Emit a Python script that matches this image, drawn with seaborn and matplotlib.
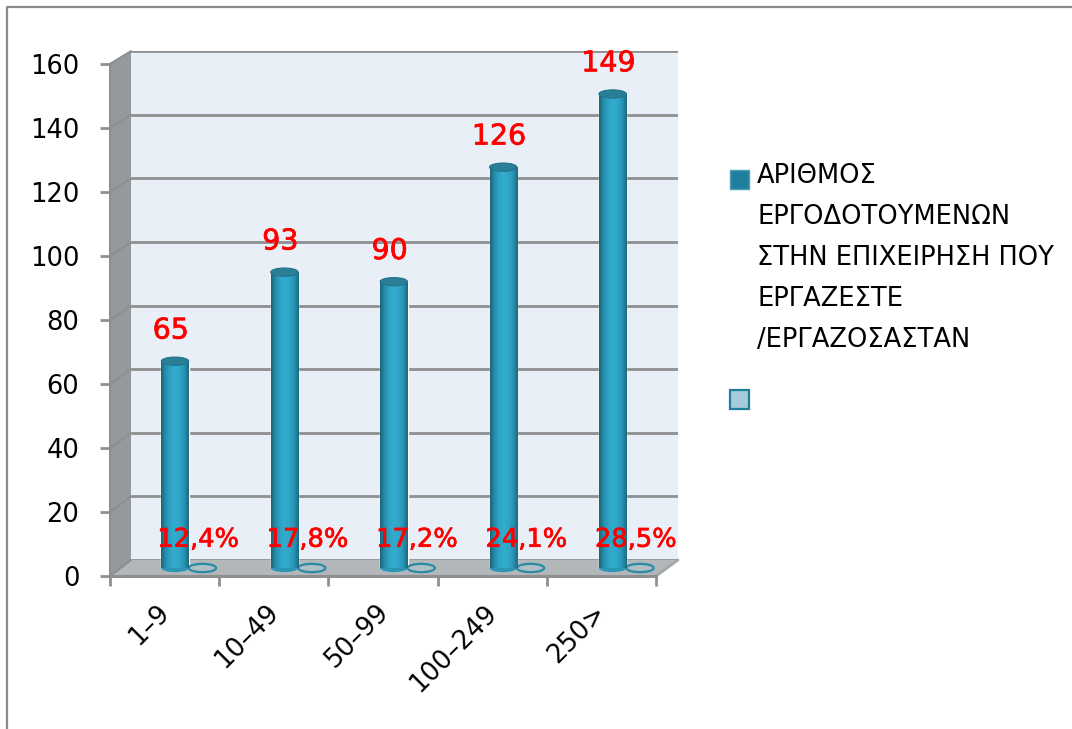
import numpy as np
import pandas as pd
import matplotlib
matplotlib.use('Agg')
import matplotlib.pyplot as plt
import matplotlib.patheffects as pe
from matplotlib.colors import LinearSegmentedColormap
from matplotlib.patches import Ellipse, Polygon, Rectangle
from matplotlib.transforms import ScaledTranslation
import seaborn as sns

categories = ['1–9', '10–49', '50–99', '100–249', '250>']
counts = [65, 93, 90, 126, 149]
second_series = [0, 0, 0, 0, 0]
pct_labels = ['12,4%', '17,8%', '17,2%', '24,1%', '28,5%']
legend_lines = ['ΑΡΙΘΜΟΣ', 'ΕΡΓΟΔΟΤΟΥΜΕΝΩΝ', 'ΣΤΗΝ ΕΠΙΧΕΙΡΗΣΗ ΠΟΥ', 'ΕΡΓΑΖΕΣΤΕ', '/ΕΡΓΑΖΟΣΑΣΤΑΝ']
y_ticks = [0, 20, 40, 60, 80, 100, 120, 140, 160]

W, H = 1072, 729
GREY = '#8e8f90'
TEAL = '#1f7f9c'

sns.set_theme(style='white')
plt.rcParams['font.family'] = ['DejaVu Sans']

fig = plt.figure(figsize=(W / 100, H / 100), dpi=100, facecolor='white')


# axes placed by pixel box, y counted from the top as in the picture
def px_axes(x0, y0, x1, y1, z):
    ax = fig.add_axes([x0 / W, 1 - y1 / H, (x1 - x0) / W, (y1 - y0) / H])
    ax.set_zorder(z)
    return ax


# background layer in pixels: frame, side wall, floor, legend
bg = px_axes(0, 0, W, H, 0)
bg.set_xlim(0, W)
bg.set_ylim(H, 0)
bg.axis('off')
bg.plot([7, 7, W], [H, 7, 7], color='#8a8a8a', lw=1.6, clip_on=False)
bg.add_patch(Polygon([(110, 64), (131, 51), (131, 560), (110, 576)], fc='#949a9c', ec='none'))
bg.add_patch(Polygon([(110, 576), (131, 560), (678, 560), (656, 576)], fc='#b2b7ba', ec='none'))
bg.plot([656, 678], [576, 560], color='#a5a8aa', lw=2)

# back wall with its gridlines
wall = px_axes(131, 51, 678, 560, 1)
wall.set_facecolor('#e8eff6')
wall.set_xlim(0, 1)
wall.set_ylim(0, 160)
wall.set_xticks([])
wall.set_yticks(y_ticks)
wall.tick_params(left=False, labelleft=False)
wall.grid(axis='y', color=GREY, lw=2.0)
sns.despine(ax=wall, left=True, bottom=True, right=True, top=True)

# front edge carrying the ticks and labels
front = px_axes(110, 64, 656, 576, 2)
front.patch.set_visible(False)
front.set_xlim(-0.5, 4.5)
front.set_ylim(0, 160)
front.set_yticks(y_ticks)
front.set_xticks(np.arange(-0.5, 5, 1))
front.set_xticklabels([])
front.set_xticks(range(len(categories)), labels=categories, minor=True)
front.tick_params(axis='y', length=7, width=2, color=GREY, labelsize=18.5, labelcolor='black', pad=15, left=True)
front.tick_params(axis='x', which='major', length=7, width=2, color=GREY, bottom=True)
front.tick_params(axis='x', which='minor', length=0, labelsize=18.5, labelcolor='black', pad=17)
for t in front.get_xticklabels(minor=True):
    t.set_rotation(45)
    t.set_ha('right')
    t.set_rotation_mode('anchor')
    t.set_transform(t.get_transform() + ScaledTranslation(-0.08, 0, fig.dpi_scale_trans))
for s in ['top', 'right']:
    front.spines[s].set_visible(False)
front.spines['bottom'].set(color=GREY, lw=2.2)
front.spines['left'].set(color=GREY, lw=1.5)

# depth lines from front ticks to the wall gridlines
for v in y_ticks:
    bg.plot([110, 131], [576 - v * 3.2, 560 - v * 3.18], color=GREY, lw=1.6)

# bars
df = pd.DataFrame({
    'category': categories * 2,
    'value': counts + second_series,
    'series': ['count'] * 5 + ['pct'] * 5,
})
bar_ax = px_axes(134, 59, 681, 568, 3)
bar_ax.patch.set_visible(False)
sns.barplot(data=df, x='category', y='value', hue='series', width=0.5,
            palette=[TEAL, '#a8cbdc'], saturation=1, legend=False, ax=bar_ax)
bar_ax.set_xlim(-0.5, 4.5)
bar_ax.set_ylim(0, 160)
bar_ax.axis('off')

cyl = LinearSegmentedColormap.from_list('cyl', ['#1b6478', '#2590ae', '#2fa4c6', '#33acce', '#30a6c8', '#2994b4', '#1b6a80'])
grad = np.linspace(0, 1, 64).reshape(1, -1)
cap_h = 2.6
for rect in bar_ax.containers[0]:
    x0, w, h = rect.get_x(), rect.get_width(), rect.get_height()
    bar_ax.add_patch(Ellipse((x0 + w / 2, 0), w, cap_h, fc='#2b95b5', ec='none', zorder=3, clip_on=False))
    bar_ax.imshow(grad, cmap=cyl, extent=[x0, x0 + w, 0, h], aspect='auto', zorder=4)
    bar_ax.add_patch(Ellipse((x0 + w / 2, h), w, cap_h, fc='#2a7e96', ec='#23728a', lw=0.8, zorder=5))
for rect in bar_ax.containers[1]:
    x0, w = rect.get_x(), rect.get_width()
    bar_ax.add_patch(Ellipse((x0 + w / 2, 0), w, cap_h, fc='#aebfc6', ec='#2a8aa6', lw=1.6, zorder=3, clip_on=False))
bar_ax.set_xlim(-0.5, 4.5)
bar_ax.set_ylim(0, 160)

# value labels
stroke = [pe.withStroke(linewidth=0.5, foreground='red')]
for ann in bar_ax.bar_label(bar_ax.containers[0], labels=[str(c) for c in counts],
                            color='red', fontsize=20.5, padding=12, zorder=6):
    ann.xyann = (-3, ann.xyann[1])
    ann.set_path_effects(stroke)
for ann in bar_ax.bar_label(bar_ax.containers[1], labels=pct_labels,
                            color='red', fontsize=18.5, padding=11, zorder=6):
    ann.xyann = (-3, ann.xyann[1])
    ann.set_path_effects(stroke)

# legend
bg.add_patch(Rectangle((730, 170), 19, 19, fc=TEAL, ec='#4d9db5', lw=1))
bg.add_patch(Rectangle((730, 390), 19, 19, fc='#a8cbdc', ec=TEAL, lw=1.6))
for i, line in enumerate(legend_lines):
    bg.text(757, 176 + 41 * i, line, fontsize=18.5, color='black', va='center', ha='left')

fig.savefig('out.png', dpi=100)
